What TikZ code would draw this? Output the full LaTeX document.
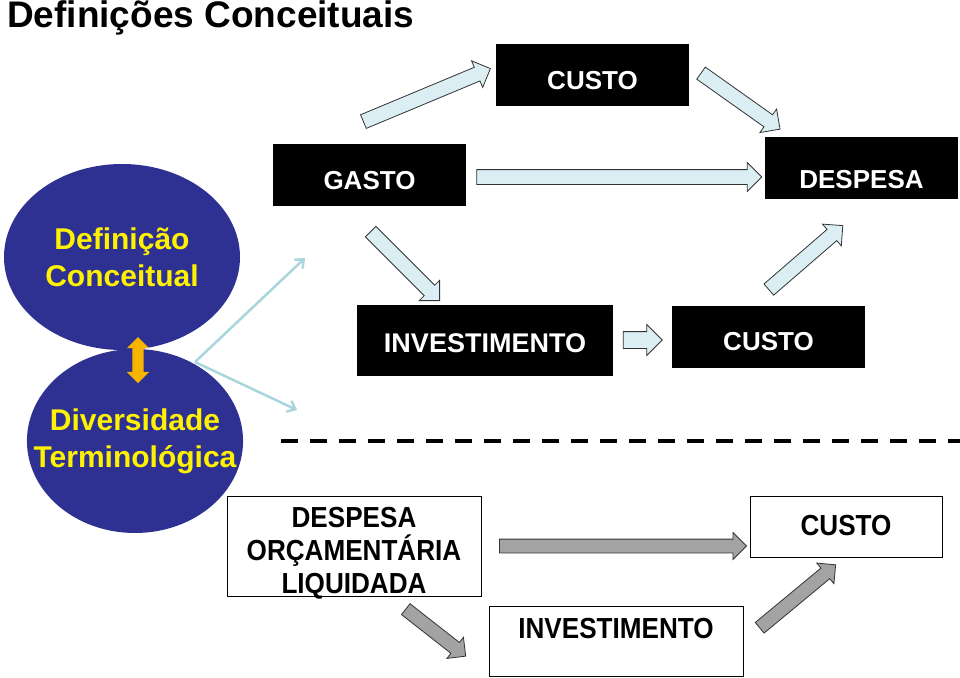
\documentclass[tikz,border=0pt]{standalone}
\usepackage{fontspec}
\setmainfont{Liberation Sans}
\newfontfamily\narrowfont[FakeStretch=0.9]{Liberation Sans}
\usetikzlibrary{arrows.meta, calc, shapes.geometric, shapes.arrows}

\definecolor{ovalblue}{HTML}{2E3192}
\definecolor{lightarr}{HTML}{DAEEF3}
\definecolor{thinarr}{HTML}{A8D6DC}
\definecolor{grayarr}{HTML}{A3A3A3}
\definecolor{orangearr}{HTML}{F7B500}

% block arrow from #2 to #3 with style #1
\newcommand{\blkarrow}[3]{%
  \path let \p1=($(#3)-(#2)$), \n1={atan2(\y1,\x1)}, \n2={veclen(\x1,\y1)} in
    node[#1, rotate=\n1, minimum height=\n2] at ($(#2)!0.5!(#3)$) {};}

\begin{document}
\begin{tikzpicture}[x=1pt, y=-1pt,
    blackbox/.style={fill=black, text=white, font=\fontsize{26}{30}\selectfont\bfseries,
      minimum height=62pt, text height=28.6pt, text depth=0pt, inner sep=0pt},
    whitebox/.style={draw=black, line width=1pt, fill=white, inner sep=0pt},
    boxtext/.style={font=\narrowfont\fontsize{29}{33}\selectfont\bfseries, inner sep=0pt, align=center},
    oval/.style={ellipse, fill=ovalblue, text=yellow, align=center, inner sep=0pt,
      font=\fontsize{30}{37}\selectfont\bfseries},
    bluearrow/.style={single arrow, draw=black!80, fill=lightarr, line width=0.8pt,
      inner xsep=0pt, inner ysep=7pt, single arrow head extend=7pt, outer sep=0pt},
    grayarrow/.style={single arrow, draw=black!80, fill=grayarr, line width=0.8pt,
      inner xsep=0pt, inner ysep=6.5pt, single arrow head extend=6.5pt, outer sep=0pt},
    thinline/.style={draw=thinarr, line width=2.5pt, -{Straight Barb[length=7pt, width=12pt]}}]
  \useasboundingbox (0,0) rectangle (960,677);

  % title
  \node[anchor=base west, inner sep=0pt, font=\fontsize{37}{42}\selectfont\bfseries]
    (title) at (7,28) {Definições Conceituais};

  % ovals
  \node[oval, minimum width=214pt, minimum height=184pt, inner xsep=-25pt] (diver) at (135,441)
    {Diversidade\\Terminológica};
  \node[oval, minimum width=236pt, minimum height=186pt] (defin) at (122,257)
    {Definição\\Conceitual};
  \node[double arrow, fill=orangearr, rotate=90, minimum height=46pt, inner xsep=0pt,
    inner ysep=5.5pt, double arrow head extend=5.5pt] (link) at (138,360) {};

  \coordinate (fork) at (195,362);
  \coordinate (up) at (305,258);
  \coordinate (down) at (297,410);
  \draw[thinline] (fork) -- (up);
  \draw[thinline] (fork) -- (down);

  % black boxes
  \node[blackbox, minimum width=193pt] (custoA) at (592.5,75) {CUSTO};
  \node[blackbox, minimum width=193pt] (gasto) at (369.5,175) {GASTO};
  \node[blackbox, minimum width=193pt, text height=42.6pt] (despesa) at (861.5,167.5) {DESPESA};
  \node[blackbox, minimum width=256pt, minimum height=71pt, text height=24.6pt,
    font=\fontsize{27}{30}\selectfont\bfseries] (invest) at (485,340.5) {INVESTIMENTO};
  \node[blackbox, minimum width=193pt, text height=27.6pt] (custoB) at (768.5,336.5) {CUSTO};

  \coordinate (a1) at (360,123);  \coordinate (b1) at (487,70);
  \coordinate (a2) at (698,71);   \coordinate (b2) at (777,127);
  \coordinate (a3) at (473,177);  \coordinate (b3) at (758,177);
  \coordinate (a4) at (368,229);  \coordinate (b4) at (437,298);
  \coordinate (a5) at (619,340);  \coordinate (b5) at (658,340);
  \coordinate (a6) at (766,292);  \coordinate (b6) at (840,228);
  \blkarrow{bluearrow}{a1}{b1}
  \blkarrow{bluearrow}{a2}{b2}
  \blkarrow{bluearrow}{a3}{b3}
  \blkarrow{bluearrow}{a4}{b4}
  \blkarrow{bluearrow, inner ysep=8pt}{a5}{b5}
  \blkarrow{bluearrow}{a6}{b6}

  % separator
  \coordinate (sepL) at (281,441);
  \coordinate (sepR) at (960,441);
  \draw[line width=4.5pt, dash pattern=on 17pt off 12pt] (sepL) -- (sepR);

  % white boxes
  \node[whitebox, minimum width=254pt, minimum height=100pt] (dol) at (354,546) {};
  \node[boxtext] (doltext) at (354,553) {DESPESA\\ORÇAMENTÁRIA\\LIQUIDADA};
  \node[whitebox, minimum width=192pt, minimum height=61pt] (custoC) at (846,526.5) {};
  \node[boxtext] (custoCtext) at (846,526) {CUSTO};
  \node[whitebox, minimum width=254pt, minimum height=70pt] (investC) at (616,641) {};
  \node[boxtext] (investCtext) at (616,629) {INVESTIMENTO};

  \coordinate (a7) at (496,546);  \coordinate (b7) at (743,546);
  \coordinate (a8) at (403,607);  \coordinate (b8) at (463,654);
  \coordinate (a9) at (757,630);  \coordinate (b9) at (833,567);
  \blkarrow{grayarrow}{a7}{b7}
  \blkarrow{grayarrow}{a8}{b8}
  \blkarrow{grayarrow}{a9}{b9}
\end{tikzpicture}
\end{document}
